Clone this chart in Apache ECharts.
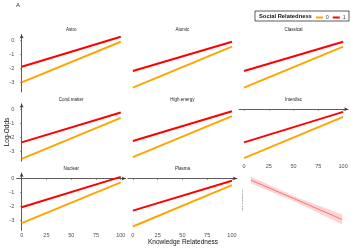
<!DOCTYPE html>
<html>
<head>
<meta charset="utf-8">
<script src="https://cdn.jsdelivr.net/npm/echarts@6/dist/echarts.min.js"></script>
<style>html,body{margin:0;padding:0;background:#fff}#c{width:351px;height:248px}</style>
</head>
<body>
<div id="c"></div>
<script>
// ---- data ----
const fields = ['Astro','Atomic','Classical','Cond.matter','High.energy','Interdisc','Nuclear','Plasma'];
const knowledgeX = [0, 100];
const social0Start = [-3.00, -3.38, -3.38, -3.52, -3.40, -3.47, -3.17, -3.41];
const social0End   = [-0.12, -0.47, -0.47, -0.61, -0.49, -0.54, -0.28, -0.47];
const social1Start = [-1.89, -2.20, -2.20, -2.35, -2.25, -2.35, -2.04, -2.28];
const social1End   = [ 0.23, -0.12, -0.12, -0.23, -0.14, -0.19,  0.11, -0.17];
const xTicks = [0, 25, 50, 75, 100];
const yTicks = [-3, -2, -1, 0];
const legendLevels = ['0', '1'];
// inset panel (small effect plot)
const insetX = [7, 53, 99];
const insetFit = [1.75, 1.07, 0.38];
const insetLow = [1.635, 0.983, 0.206];
const insetHigh = [1.865, 1.157, 0.554];
const insetLabel = 'Social relatedness effect';

// ---- layout ----
const FONT = 'Liberation Sans, Arial, sans-serif';
const colLeft = c => 16.7 + 111.2 * c;
const rowTop = r => 34.6 + 69.2 * r;
const PW = 109, PH = 57.4;
const showY = [true,false,false,true,false,false,true,false];
const showX = [false,false,false,false,false,true,true,true];
const colors = { '0': '#FFA500', '1': '#FF0000' };

const grids = [], xAxes = [], yAxes = [], series = [], titles = [];
fields.forEach((f, i) => {
  const r = Math.floor(i / 3), c = i % 3;
  grids.push({ left: colLeft(c), top: rowTop(r), width: PW, height: PH, containLabel: false });
  xAxes.push({
    type: 'value', gridIndex: i, min: -5, max: 105,
    splitLine: { show: false },
    axisLine: { show: showX[i], lineStyle: { color: '#333', width: 0.8 }, symbol: ['none', 'arrow'], symbolSize: [3, 4] },
    axisTick: { show: showX[i], customValues: xTicks, length: 1.5, lineStyle: { color: '#555', width: 0.6 } },
    axisLabel: { show: showX[i], customValues: xTicks, fontSize: 5.5, color: '#4d4d4d', margin: 2, fontFamily: FONT }
  });
  yAxes.push({
    type: 'value', gridIndex: i, min: -3.685, max: 0.385,
    splitLine: { show: false },
    axisLine: { show: showY[i], lineStyle: { color: '#333', width: 0.8 }, symbol: ['none', 'arrow'], symbolSize: [3, 4] },
    axisTick: { show: showY[i], customValues: yTicks, length: 1.5, lineStyle: { color: '#555', width: 0.6 } },
    axisLabel: { show: showY[i], customValues: yTicks, fontSize: 5.5, color: '#4d4d4d', margin: 2.5, fontFamily: FONT }
  });
  series.push({
    name: '0', type: 'line', xAxisIndex: i, yAxisIndex: i, showSymbol: false, silent: true,
    lineStyle: { color: colors['0'], width: 2 }, itemStyle: { color: colors['0'] },
    data: knowledgeX.map((x, k) => [x, k === 0 ? social0Start[i] : social0End[i]])
  });
  series.push({
    name: '1', type: 'line', xAxisIndex: i, yAxisIndex: i, showSymbol: false, silent: true,
    lineStyle: { color: colors['1'], width: 2 }, itemStyle: { color: colors['1'] },
    data: knowledgeX.map((x, k) => [x, k === 0 ? social1Start[i] : social1End[i]])
  });
  titles.push({
    text: f, left: colLeft(c) + PW / 2, top: rowTop(r) - 7, textAlign: 'center', padding: 0,
    textStyle: { fontSize: 4.5, fontWeight: 'normal', color: '#1a1a1a', fontFamily: FONT }
  });
});

// inset grid
const ig = fields.length;
grids.push({ left: colLeft(2), top: rowTop(2), width: PW, height: PH });
xAxes.push({ type: 'value', gridIndex: ig, min: -5, max: 105, show: false });
yAxes.push({ type: 'value', gridIndex: ig, min: 0, max: 2, show: false });
series.push({
  type: 'custom', xAxisIndex: ig, yAxisIndex: ig, silent: true,
  data: [[insetX[0], insetFit[0]]],
  renderItem: function (params, api) {
    const pts = [];
    insetX.forEach((x, k) => pts.push(api.coord([x, insetHigh[k]])));
    for (let k = insetX.length - 1; k >= 0; k--) pts.push(api.coord([insetX[k], insetLow[k]]));
    return { type: 'polygon', shape: { points: pts }, style: { fill: 'rgba(255,80,80,0.25)' } };
  }
});
series.push({
  type: 'line', xAxisIndex: ig, yAxisIndex: ig, showSymbol: false, silent: true,
  lineStyle: { color: '#f06060', width: 0.8 }, data: insetX.map((x, k) => [x, insetFit[k]])
});

titles.push({ text: 'A', left: 16, top: 2, padding: 0, textStyle: { fontSize: 6, fontWeight: 'normal', color: '#333', fontFamily: FONT } });

const chart = echarts.init(document.getElementById('c'), null, { renderer: 'canvas' });
chart.setOption({
  animation: false,
  backgroundColor: '#fff',
  title: titles,
  grid: grids, xAxis: xAxes, yAxis: yAxes, series: series,
  legend: {
    data: legendLevels, left: 316, top: 15, orient: 'horizontal', width: 40, padding: 0,
    itemWidth: 7, itemHeight: 2, itemGap: 4,
    icon: 'rect', selectedMode: false,
    textStyle: { fontSize: 5, color: '#333', fontFamily: FONT, padding: [0, 0, 0, -2] }
  },
  graphic: [
    { type: 'rect', shape: { x: 255, y: 11, width: 94, height: 10 }, style: { fill: 'none', stroke: '#333', lineWidth: 0.8 } },
    { type: 'text', x: 259, y: 16, style: { text: 'Social Relatedness', fontSize: 5.8, fontWeight: 'bold', fill: '#111', fontFamily: FONT, verticalAlign: 'middle' } },
    { type: 'text', x: 7, y: 132, rotation: Math.PI / 2, style: { text: 'Log-Odds', fontSize: 6.5, fill: '#111', fontFamily: FONT, align: 'center', verticalAlign: 'middle' } },
    { type: 'text', x: 183, y: 242, style: { text: 'Knowledge Relatedness', fontSize: 6.5, fill: '#111', fontFamily: FONT, align: 'center', verticalAlign: 'middle' } },
    { type: 'text', x: 242.3, y: 200, rotation: Math.PI / 2, style: { text: insetLabel, fontSize: 2, fill: '#333', fontFamily: FONT, align: 'center', verticalAlign: 'middle' } }
  ]
});
</script>
</body>
</html>
